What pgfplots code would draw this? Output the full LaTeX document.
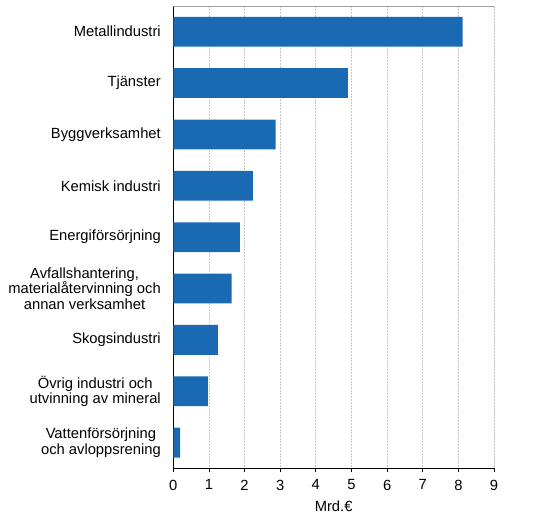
\documentclass[border=0pt]{standalone}
\usepackage{fontspec}
\setmainfont{Liberation Sans}
\usepackage{pgfplots}
\pgfplotsset{compat=1.18}
\definecolor{barblue}{HTML}{1A6AB3}
\definecolor{gridgray}{HTML}{C8C8C8}
\definecolor{framegray}{HTML}{A0A0A0}

\begin{document}
\begin{tikzpicture}
\path[use as bounding box] (0,0) rectangle (533bp,520bp);
\begin{axis}[
    at={(173.3bp,51.7bp)}, anchor=south west,
    scale only axis,
    width=320.7bp, height=462.3bp,
    xbar, bar width=0.58,
    xmin=0, xmax=9,
    ymin=-0.5, ymax=8.5,
    y dir=reverse,
    xtick={0,1,2,3,4,5,6,7,8,9},
    ytick={0,1,2,3,4,5,6,7,8},
    yticklabels={Metallindustri, Tjänster, Byggverksamhet, Kemisk industri,
        Energiförsörjning,
        {Avfallshantering,\\materialåtervinning och\\annan verksamhet},
        Skogsindustri,
        {Övrig industri och\\utvinning av mineral},
        {Vattenförsörjning\\och avloppsrening}},
    axis x line*=bottom, axis y line*=left,
    axis line style={black, line width=0.8bp},
    x axis line style={-}, y axis line style={-},
    tick align=outside,
    major tick length=4bp,
    xtick style={black, line width=0.8bp},
    ytick style={draw=none},
    xmajorgrids,
    grid style={gridgray, line width=0.7bp, dash pattern=on 2bp off 1bp},
    tick label style={font=\fontsize{14.8}{15.8}\selectfont},
    x tick label style={yshift=-4bp},
    y tick label style={align=center, xshift=-5bp},
    /pgf/number format/assume math mode=true,
    xlabel={Mrd.€},
    xlabel style={font=\fontsize{14.8}{16}\selectfont, yshift=-4bp},
]
\addplot[draw=none, fill=barblue] coordinates {
    (8.12,0) (4.90,1) (2.87,2) (2.23,3) (1.87,4)
    (1.64,5) (1.25,6) (0.97,7) (0.19,8)
};
\draw[framegray, line width=0.8bp] (rel axis cs:0,1) -- (rel axis cs:1,1) -- (rel axis cs:1,0);
\end{axis}
\end{tikzpicture}
\end{document}
